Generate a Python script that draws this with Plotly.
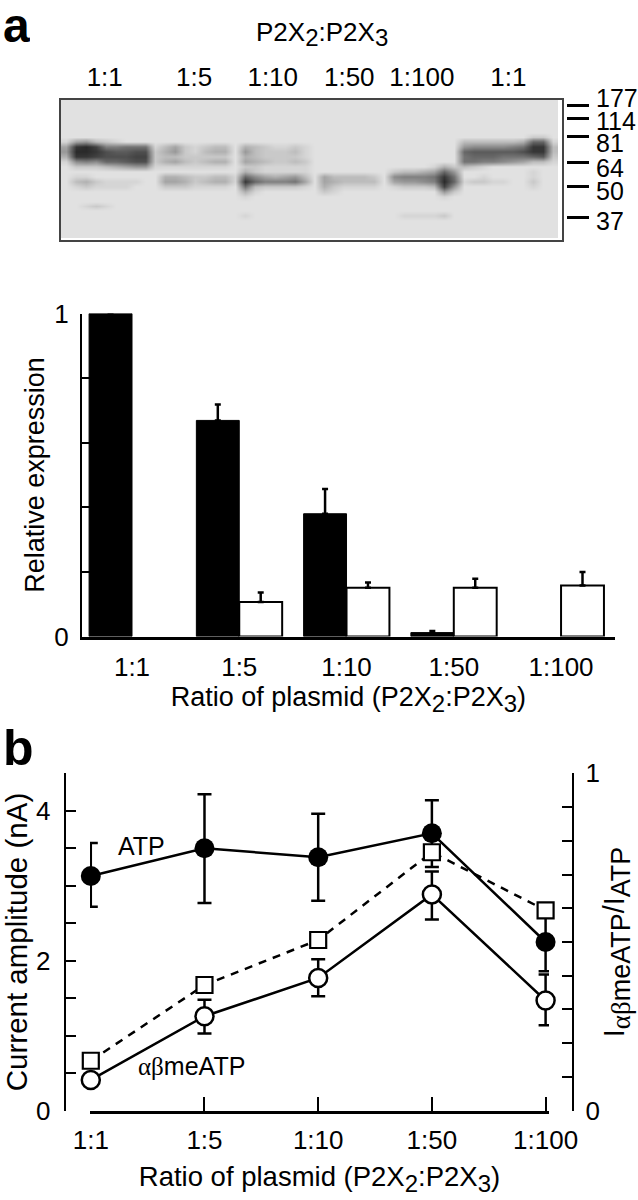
import plotly.graph_objects as go

W, H = 638, 1200
FONT = "Liberation Sans, Arial, sans-serif"
SERIF = "Liberation Serif"

# ---------- panel a, blot: darkness per cell, hex digit, one string per row ----------
blank = "0" * 50
gel_rows = [
    blank, blank, blank, blank, blank, blank, blank,
    "0000000000" "0000000000" "0000000000" "0000000000" "0000000220",
    "1563210000" "0000000000" "0000000000" "0000000000" "3333334aa1",
    "5efd889991" "3521233043" "2112100000" "0000000000" "6777789ee3",
    "6ffecbbcc2" "4621344063" "2223100000" "0000000000" "abbbbbcee3",
    "4eedcccdd2" "3322222043" "2222100000" "0000000000" "9aaa999ab2",
    "1787aabcc2" "4532344054" "3223200000" "0000000000" "9988765331",
    "0222345661" "1111111022" "1111100000" "0000000142" "3210000000",
    "0000000000" "0000000042" "1111100000" "00023345a6" "0000000100",
    "0110000000" "44322331a7" "5456305333" "32078889e9" "0010000100",
    "0342111100" "55423441ea" "8889505433" "33056678fa" "1221100200",
    "0121111000" "2221111093" "2222104211" "11012223d6" "0000000100",
    "0000000000" "0000000041" "0000002100" "0000000062" "0000000000",
    "0000000000" "0000000010" "0000000000" "0000000010" "0000000000",
    blank,
    "0012100000" "0000000000" "0000000000" "0000000000" "0000000000",
    blank,
    "0000000000" "0000000010" "0000000000" "0000111120" "0000000000",
    blank, blank, blank, blank,
]
gel_z = [[int(c, 16) for c in row] for row in gel_rows]

lane_labels = ["1:1", "1:5", "1:10", "1:50", "1:100", "1:1"]
lane_centres = [3.9, 12.9, 20.8, 28.5, 35.8, 44.5]
mw_labels = ["177", "114", "81", "64", "50", "37"]
mw_tick_rows = [0.7, 3.2, 7.0, 12.2, 17.0, 23.3]
mw_label_rows = [-1.0, 3.6, 8.0, 13.0, 17.8, 23.7]

# ---------- panel a, bars ----------
ratios = ["1:1", "1:5", "1:10", "1:50", "1:100"]
p2x2_expr = [1.0, 0.669, 0.38, 0.012, None]
p2x2_err = [0, 0.049, 0.077, 0.005, 0]
p2x3_expr = [None, 0.107, 0.151, 0.151, 0.158]
p2x3_err = [0, 0.029, 0.016, 0.028, 0.042]

# ---------- panel b ----------
atp = [3.13, 3.50, 3.38, 3.70, 2.25]
atp_hi = [0.44, 0.72, 0.58, 0.44, 0.39]
atp_lo = [0.41, 0.73, 0.58, 0.45, 0.39]
abme = [0.41, 1.26, 1.77, 2.885, 1.47]
abme_hi = [0, 0.22, 0.25, 0.305, 0.345]
abme_lo = [0, 0.23, 0.245, 0.335, 0.33]
ratio_current = [0.148, 0.3725, 0.506, 0.766, 0.594]

expr_major = [0, 1]
expr_minor = [0.2, 0.4, 0.6, 0.8]
amp_major = [0, 2, 4]
amp_minor = [0.5, 1, 1.5, 2.5, 3, 3.5, 4.5]
frac_major = [0, 1]
frac_minor = [0.1, 0.2, 0.3, 0.4, 0.5, 0.6, 0.7, 0.8, 0.9]


def dx(l, r):
    return [l / W, r / W]


def dy(t, b):
    return [1 - b / H, 1 - t / H]


def sub(text, px):
    return '<sub><span style="font-size:%dpx">%s</span></sub>' % (px, text)


fig = go.Figure()

# blot
fig.add_trace(go.Heatmap(z=gel_z, xaxis="x", yaxis="y", zmin=0, zmax=15, zsmooth="best",
                         colorscale=[[0, "#e1e1e1"], [1, "#2a2a2a"]], showscale=False, hoverinfo="skip"))
fig.add_trace(go.Scatter(x=[None], y=[None], xaxis="x", yaxis="y2", showlegend=False))

# bars
fig.add_trace(go.Bar(x=list(range(5)), y=p2x2_expr, xaxis="x2", yaxis="y3", name="P2X2",
                     marker=dict(color="black", line=dict(color="black", width=1)),
                     error_y=dict(type="data", symmetric=False, array=p2x2_err, arrayminus=[0] * 5,
                                  color="black", thickness=2.5, width=3)))
fig.add_trace(go.Bar(x=list(range(5)), y=p2x3_expr, xaxis="x2", yaxis="y3", name="P2X3",
                     marker=dict(color="white", line=dict(color="black", width=2)),
                     error_y=dict(type="data", symmetric=False, array=p2x3_err, arrayminus=[0] * 5,
                                  color="black", thickness=2.5, width=3)))

# current curves
fig.add_trace(go.Scatter(x=list(range(5)), y=atp, xaxis="x3", yaxis="y4", name="ATP", mode="lines+markers",
                         cliponaxis=False, line=dict(color="black", width=2.5),
                         marker=dict(symbol="circle", size=20, color="black"),
                         error_y=dict(type="data", symmetric=False, array=atp_hi, arrayminus=atp_lo,
                                      color="black", thickness=2.5, width=7)))
fig.add_trace(go.Scatter(x=list(range(5)), y=abme, xaxis="x3", yaxis="y4", name="αβmeATP", mode="lines+markers",
                         cliponaxis=False, line=dict(color="black", width=2.5),
                         marker=dict(symbol="circle", size=18, color="white", line=dict(color="black", width=2.5)),
                         error_y=dict(type="data", symmetric=False, array=abme_hi, arrayminus=abme_lo,
                                      color="black", thickness=2.5, width=7)))
fig.add_trace(go.Scatter(x=list(range(5)), y=ratio_current, xaxis="x3", yaxis="y5", name="ratio", mode="lines+markers",
                         cliponaxis=False, line=dict(color="black", width=2.5, dash="8px,7px"),
                         marker=dict(symbol="square", size=16, color="white", line=dict(color="black", width=2.2))))

TICK = dict(size=26, family=FONT, color="black")
TITLE = dict(size=27, family=FONT, color="black")
TITLE_B = dict(size=29.5, family=FONT, color="black")
plasmid_title = "Ratio of plasmid (P2X" + sub("2", 24) + ":P2X" + sub("3", 24) + ")"
ylabel_right = ("I" + sub("<span style=\"font-family:'%s'\">αβ</span>meATP" % SERIF, 27) + "/I" + sub("ATP", 27))

annotations = [
    dict(text="<b>a</b>", x=1 / W, y=1 - 25 / H, xanchor="left", yanchor="middle", height=40,
         font=dict(size=48, family=FONT)),
    dict(text="<b>b</b>", x=1 / W, y=1 - 748 / H, xanchor="left", yanchor="middle", height=44,
         font=dict(size=50, family=FONT)),
    dict(text="P2X" + sub("2", 24) + ":P2X" + sub("3", 24), x=322 / W, y=1 - 34 / H, xanchor="center",
         yanchor="middle", font=dict(size=26, family=FONT)),
    dict(text="ATP", x=141 / W, y=1 - 846 / H, xanchor="center", yanchor="middle", font=dict(size=25, family=FONT)),
    dict(text="<span style=\"font-family:'%s'\">αβ</span>meATP" % SERIF, x=191 / W, y=1 - 1066 / H,
         xanchor="center", yanchor="middle", font=dict(size=25, family=FONT)),
]
# molecular-weight labels sit in paper space: the topmost one lies above the blot's row range
for lab, row in zip(mw_labels, mw_label_rows):
    annotations.append(dict(text=lab, x=594 / W, y=1 - (102.5 + 5 * row) / H, xanchor="left", yanchor="middle",
                            height=22, font=dict(size=25, family=FONT)))
for a in annotations:
    a.setdefault("xref", "paper")
    a.setdefault("yref", "paper")
    a["showarrow"] = False

fig.update_layout(
    width=W, height=H, margin=dict(l=0, r=0, t=0, b=0, autoexpand=False), autosize=False,
    paper_bgcolor="white", plot_bgcolor="white", showlegend=False,
    font=dict(family=FONT, color="black"),
    barmode="group", bargap=0.2, bargroupgap=0,
    annotations=annotations,
    # blot
    xaxis=dict(domain=dx(61, 562), range=[-0.5, 49.9], side="top", anchor="y", tickmode="array",
               tickvals=lane_centres, ticktext=lane_labels, ticks="", tickfont=TICK, ticklabelstandoff=2,
               showgrid=False, zeroline=False, showline=True, mirror=True, linecolor="#444444", linewidth=2),
    yaxis=dict(domain=dy(100, 240), range=[27.9, -0.5], anchor="x", showticklabels=False, ticks="",
               showgrid=False, zeroline=False, showline=True, mirror=True, linecolor="#444444", linewidth=2),
    yaxis2=dict(domain=dy(100, 240), range=[27.9, -0.5], overlaying="y", anchor="free", position=566 / W, side="right",
                tickmode="array", tickvals=mw_tick_rows, ticks="outside", ticklen=22, tickwidth=2.5, tickcolor="black",
                showticklabels=False, showgrid=False, zeroline=False, showline=False),
    # bars
    xaxis2=dict(domain=dx(81.8, 615), range=[-0.468, 4.503], anchor="y3", tickmode="array", tickvals=list(range(5)),
                ticktext=ratios, ticks="", tickfont=TICK, ticklabelstandoff=6, showgrid=False, zeroline=False,
                showline=True, linecolor="black", linewidth=2.5,
                title=dict(text=plasmid_title, font=TITLE, standoff=4)),
    yaxis3=dict(domain=dy(313.5, 636.5), range=[0, 1], anchor="x2", tickmode="array",
                tickvals=expr_major, ticks="inside", ticklen=8,
                minor=dict(tickmode="array", tickvals=expr_minor, ticks="inside", ticklen=8, tickwidth=2, tickcolor="black"),
                tickwidth=2, tickcolor="black", tickfont=TICK, ticklabelstandoff=6, showgrid=False, zeroline=False,
                showline=True, linecolor="black", linewidth=2,
                title=dict(text="Relative expression", font=TITLE, standoff=2)),
    # curves
    xaxis3=dict(domain=dx(90, 549), range=[-0.007, 4.03], anchor="y4", tickmode="array", tickvals=list(range(5)),
                ticktext=ratios, ticks="inside", ticklen=14, tickwidth=2, tickcolor="black", tickfont=TICK,
                ticklabelstandoff=4, showgrid=False, zeroline=False, showline=True, linecolor="black", linewidth=2.5,
                title=dict(text=plasmid_title, font=dict(TITLE, size=27.5), standoff=14)),
    yaxis4=dict(domain=dy(773.3, 1110.7), range=[0, 4.5], anchor="free", position=64.6 / W, tickmode="array",
                tickvals=amp_major, ticks="inside", ticklen=10, tickwidth=2, tickcolor="black", tickfont=TICK,
                minor=dict(tickmode="array", tickvals=amp_minor, ticks="inside", ticklen=10, tickwidth=2, tickcolor="black"),
                ticklabelstandoff=8, showgrid=False, zeroline=False, showline=True, linecolor="black", linewidth=2,
                title=dict(text="Current amplitude (nA)", font=TITLE_B, standoff=5)),
    yaxis5=dict(domain=dy(773.3, 1110.7), range=[0, 1], anchor="free", position=573.4 / W, overlaying="y4", side="right",
                tickmode="array", tickvals=frac_major, ticks="inside", ticklen=10, tickwidth=2,
                minor=dict(tickmode="array", tickvals=frac_minor, ticks="inside", ticklen=10, tickwidth=2, tickcolor="black"),
                tickcolor="black", tickfont=TICK, ticklabelstandoff=6, showgrid=False, zeroline=False,
                showline=True, linecolor="black", linewidth=2,
                title=dict(text=ylabel_right, font=dict(TITLE, size=29), standoff=4)),
)

fig.write_html("out.html", config={"displayModeBar": False}, post_script="document.body.style.margin='0';")
